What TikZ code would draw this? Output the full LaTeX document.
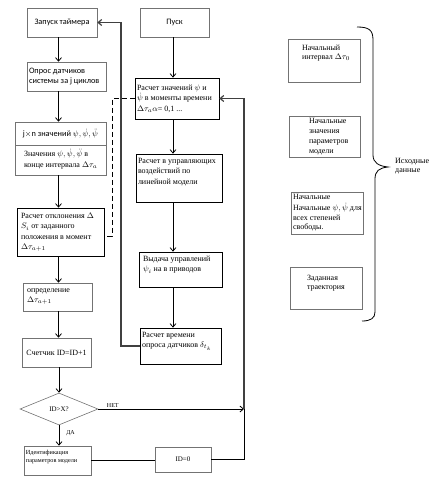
\documentclass[tikz,border=0pt]{standalone}
\usepackage{fontspec}
\setmainfont{Liberation Serif}
\newfontfamily\carl{Carlito}
\usetikzlibrary{arrows.meta,shapes.geometric}
\newcommand{\bxt}[5]{\hspace*{#1}\parbox[c][#3][#4]{#2}{\begin{tabular}[t]{@{}l@{}}#5\end{tabular}}}
\begin{document}
\begin{tikzpicture}[x=1pt,y=-1pt,
  gbox/.style={draw=black!55, line width=0.6pt, inner sep=2pt, rectangle, font=\fontsize{8}{10.5}\selectfont},
  kbox/.style={gbox, draw=black, line width=0.7pt},
  rbox/.style={gbox, font=\fontsize{8}{9.8}\selectfont},
  sans/.style={font=\carl\fontsize{8.3}{10.5}\selectfont},
  line/.style={line width=0.8pt, draw=black},
  heavy/.style={line width=1.2pt, draw=black!75},
  arr/.style={line, -{Straight Barb[length=3.5pt,width=6pt]}},
  dashline/.style={line, dash pattern=on 5pt off 3pt},
  lab/.style={font=\fontsize{6}{7}\selectfont, inner sep=1pt}]
\path[use as bounding box] (0,0) rectangle (441,491);
\coordinate (cx) at (58.5,0);
\coordinate (cr) at (173,0);
\coordinate (lx) at (121,0);
\coordinate (rx) at (244,0);
\coordinate (dx) at (112,0);
\coordinate (dy) at (0,236);
% left column
\node[gbox, sans, minimum width=70pt, minimum height=29pt] (tmr) at (62,22.5) {Запуск таймера};
\node[gbox, sans] (opr) at (66.5,76.5) {\bxt{0pt}{75pt}{25pt}{t}{\rule{0pt}{9pt}Опрос датчиков\\системы за j циклов}};
\node[gbox, sans, minimum width=91pt, minimum height=23pt] (jn) at (60.5,133.5) {j$\times$n значений $\psi,\dot{\psi},\ddot{\psi}$};
\node[gbox] (zn) at (60.5,160) {\bxt{7pt}{80pt}{26pt}{c}{Значения $\psi,\dot{\psi},\ddot{\psi}$ в\\конце интервала $\Delta\tau_a$}};
\node[kbox] (otk) at (60.5,232) {\bxt{2pt}{81pt}{44pt}{c}{Расчет отклонения $\Delta$\\$S_i$ от заданного\\положения в момент\\$\Delta\tau_{a+1}$}};
\node[gbox] (opd) at (57.5,297) {\bxt{2pt}{63pt}{24pt}{t}{определение\\$\Delta\tau_{a+1}$}};
\node[gbox, minimum width=69pt, minimum height=29pt] (sch) at (56.5,352.5) {Счетчик ID=ID+1};
\node[diamond, draw=black!55, line width=0.6pt, minimum width=78pt, minimum height=32pt, inner sep=0pt, font=\fontsize{7}{8}\selectfont] (dia) at (59,409) {ID>X?};
\node[gbox, font=\fontsize{6.2}{7.5}\selectfont] (idf) at (57.5,460.5) {\bxt{0pt}{63pt}{25pt}{t}{\rule{0pt}{6.5pt}Идентификация\\параметров модели}};
\node[gbox, minimum width=56pt, minimum height=25pt, font=\fontsize{7}{8}\selectfont] (id0) at (183,459.5) {ID=0};
% middle column
\node[gbox, sans, minimum width=69pt, minimum height=29pt] (pusk) at (174.5,22.5) {Пуск};
\node[kbox] (rz) at (177,98.5) {\bxt{0pt}{80pt}{37pt}{c}{Расчет значений $\psi$ и\\$\dot{\psi}$ в моменты времени\\$\Delta\tau_a\alpha$= 0,1 ...}};
\node[kbox] (rn) at (179,178) {\bxt{0pt}{82pt}{44pt}{t}{Расчет в управляющих\\воздействий по\\линейной модели}};
\node[kbox] (vd) at (180.5,269.5) {\bxt{2pt}{77pt}{31pt}{t}{Выдача управлений\\$\psi_i$ на в приводов}};
\node[kbox] (rv) at (180.5,346) {\bxt{0pt}{77pt}{32pt}{t}{Расчет времени\\опроса датчиков $\delta_{t_k}$}};
% right column
\node[rbox] (n1) at (324,60.5) {\bxt{12pt}{56pt}{39pt}{t}{\rule{0pt}{9pt}Начальный\\интервал $\Delta\tau_0$}};
\node[rbox] (n2) at (324.5,136.5) {\bxt{18pt}{49pt}{37pt}{c}{Начальные\\значения\\параметров\\модели}};
\node[rbox] (n3) at (327,213) {\bxt{0pt}{68pt}{38pt}{c}{Начальные\\Начальные $\psi,\dot{\psi}$ для\\всех степеней\\свободы.}};
\node[rbox] (n4) at (326,288) {\bxt{15pt}{53pt}{38pt}{t}{\rule{0pt}{11pt}Заданная\\траектория}};
\node[font=\fontsize{8}{9.5}\selectfont, anchor=west, align=left, inner sep=0pt] (src) at (395,166) {Исходные\\данные};
\draw[line] (357,27) .. controls (369,27) and (373,30) .. (373,40) -- (373,155)
  .. controls (373,163) and (379,166) .. (388,167)
  .. controls (379,168) and (375,171) .. (375,179) -- (375,312)
  .. controls (375,318) and (371,321) .. (362,321);
% connectors
\draw[arr] (tmr.south -| cx) -- (opr.north -| cx);
\draw[arr] (opr.south -| cx) -- (jn.north -| cx);
\draw[arr] (zn.south -| cx) -- (otk.north -| cx);
\draw[arr] (otk.south -| cx) -- (opd.north -| cx);
\draw[arr] (opd.south -| cx) -- (sch.north -| cx);
\draw[arr] (sch.south -| dia.north) -- (dia.north);
\draw[arr] (dia.south) -- (idf.north -| dia.south) node[lab, pos=0.4, right=6pt] {ДА};
\draw[line] (idf.east) -- (idf.east -| id0.west);
\draw[arr] (dia.east) -- (dia.east -| rx) node[lab, pos=0.05, above right] {НЕТ};
\draw[line] (id0.east) -| (rx |- dia.east);
\draw[arr, heavy] (rx |- dia.east) |- (rz.east);
\draw[arr] (pusk.south -| cr) -- (rz.north -| cr);
\draw[arr] (rz.south -| cr) -- (rn.north -| cr);
\draw[arr] (rn.south -| cr) -- (vd.north -| cr);
\draw[arr] (vd.south -| cr) -- (rv.north -| cr);
\draw[arr, heavy] (rv.west) -| (lx |- tmr.east) -- (tmr.east);
\draw[dashline] (rz.west) -- (rz.west -| dx) -- (dx |- dy) -- (otk.east |- dy);
\end{tikzpicture}
\end{document}
